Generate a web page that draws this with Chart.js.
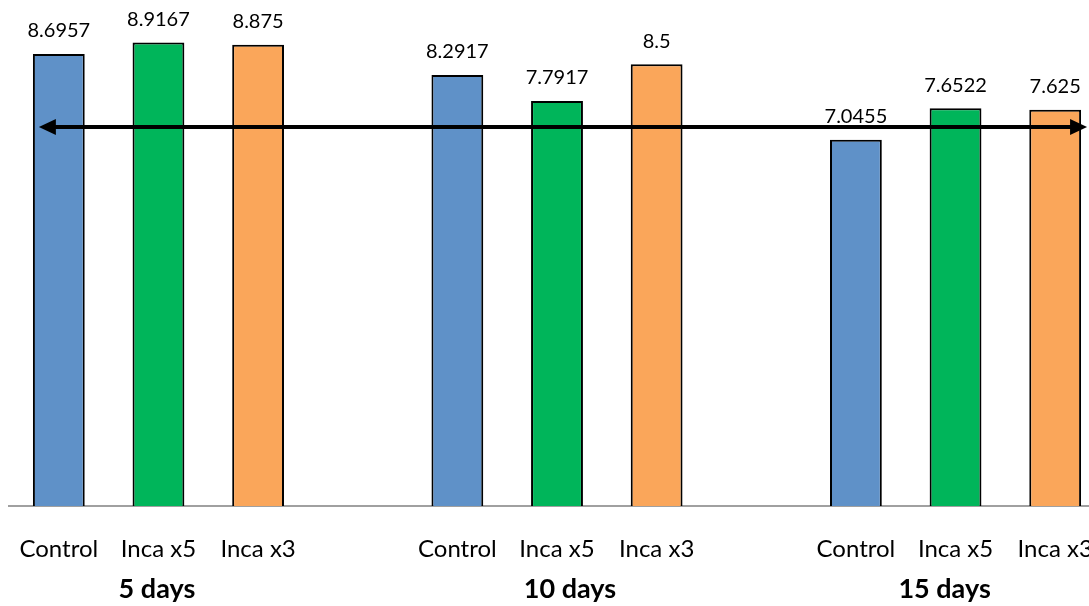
<!DOCTYPE html>
<html lang="en">
<head>
    <meta charset="UTF-8">
    <title>Inca bars</title>
    <script src="https://cdn.jsdelivr.net/npm/chart.js"></script>
    <style>
        html, body {
            margin: 0;
            padding: 0;
            background: #ffffff;
            overflow: hidden;
        }
        #wrap {
            width: 1110px;
            height: 606px;
        }
    </style>
</head>
<body>
    <div id="wrap"><canvas id="chart" width="1110" height="606"></canvas></div>

    <script>
        // values
        const days = ['5 days', '10 days', '15 days'];
        const treatments = ['Control', 'Inca x5', 'Inca x3'];
        const control = [8.6957, 8.2917, 7.0455];
        const incaX5 = [8.9167, 7.7917, 7.6522];
        const incaX3 = [8.875, 8.5, 7.625];
        const arrowValue = 7.29;

        const colors = ['#5f91c8', '#00b55a', '#faa65a'];
        const series = [control, incaX5, incaX3];
        // group captions are not exactly centred under the middle bar (slot units)
        const dayShift = [-0.015, 0.13, -0.11];

        // 3 bars per group, one empty slot between groups
        let labels = [];
        days.forEach((d, g) => {
            if (g > 0) labels.push('');
            treatments.forEach(t => labels.push(t));
        });

        let datasets = treatments.map((t, i) => {
            let data = labels.map(() => null);
            days.forEach((d, g) => { data[g * 4 + i] = series[i][g]; });
            return {
                label: t,
                data: data,
                backgroundColor: colors[i],
                borderColor: '#000000',
                borderWidth: 2,
                barPercentage: 0.52,
                categoryPercentage: 1.0,
                grouped: false
            };
        });

        const valueLabels = {
            id: 'valueLabels',
            afterDatasetsDraw(chart) {
                const ctx = chart.ctx;
                ctx.save();
                ctx.font = '20px Lato';
                ctx.fillStyle = '#000000';
                ctx.textAlign = 'center';
                ctx.textBaseline = 'bottom';
                chart.data.datasets.forEach((ds, di) => {
                    chart.getDatasetMeta(di).data.forEach((bar, j) => {
                        if (ds.data[j] == null) return;
                        ctx.fillText(String(ds.data[j]), bar.x, bar.y - 13);
                    });
                });
                ctx.restore();
            }
        };

        const dayLabels = {
            id: 'dayLabels',
            afterDraw(chart) {
                const ctx = chart.ctx;
                const x = chart.scales.x;
                const band = chart.scales.x2;
                ctx.save();
                ctx.font = 'bold 27px Lato';
                ctx.fillStyle = '#000000';
                ctx.textAlign = 'center';
                ctx.textBaseline = 'middle';
                days.forEach((d, g) => {
                    ctx.fillText(d, x.getPixelForValue(g * 4 + 1 + dayShift[g]), band.top + 27);
                });
                ctx.restore();
            }
        };

        const arrow = {
            id: 'arrow',
            afterDraw(chart) {
                const ctx = chart.ctx;
                const x = chart.scales.x;
                const y = chart.scales.y.getPixelForValue(arrowValue);
                const x1 = x.getPixelForValue(-0.2);
                const x2 = x.getPixelForValue(10.32);
                const hl = 17, hw = 8;
                ctx.save();
                ctx.strokeStyle = '#000000';
                ctx.fillStyle = '#000000';
                ctx.lineWidth = 4;
                ctx.beginPath();
                ctx.moveTo(x1 + hl - 2, y);
                ctx.lineTo(x2 - hl + 2, y);
                ctx.stroke();
                ctx.beginPath();
                ctx.moveTo(x1, y);
                ctx.lineTo(x1 + hl, y - hw);
                ctx.lineTo(x1 + hl, y + hw);
                ctx.closePath();
                ctx.fill();
                ctx.beginPath();
                ctx.moveTo(x2, y);
                ctx.lineTo(x2 - hl, y - hw);
                ctx.lineTo(x2 - hl, y + hw);
                ctx.closePath();
                ctx.fill();
                ctx.restore();
            }
        };

        // fixed axis heights, no extra side padding for edge labels
        function fixHeight(h) {
            return function (scale) {
                scale.height = h;
                scale.paddingLeft = 0;
                scale.paddingRight = 0;
            };
        }

        new Chart(document.getElementById('chart'), {
            type: 'bar',
            data: { labels: labels, datasets: datasets },
            plugins: [valueLabels, dayLabels, arrow],
            options: {
                responsive: false,
                animation: false,
                layout: { autoPadding: false, padding: { left: 9, right: 5, top: 20, bottom: 0 } },
                plugins: {
                    legend: { display: false },
                    tooltip: { enabled: false }
                },
                scales: {
                    y: {
                        display: false,
                        min: 0,
                        max: 9.35
                    },
                    x: {
                        position: 'bottom',
                        afterFit: fixHeight(56),
                        grid: { display: false, drawTicks: false },
                        border: { display: true, color: '#a0a0a0', width: 2 },
                        ticks: {
                            autoSkip: false,
                            maxRotation: 0,
                            padding: 29,
                            color: '#000000',
                            font: { family: 'Lato', size: 24 }
                        }
                    },
                    // empty band below the tick row that holds the day captions
                    x2: {
                        type: 'category',
                        labels: labels,
                        position: 'bottom',
                        afterFit: fixHeight(44),
                        grid: { display: false, drawTicks: false },
                        border: { display: false },
                        ticks: { display: false }
                    }
                }
            }
        });
    </script>
</body>
</html>
